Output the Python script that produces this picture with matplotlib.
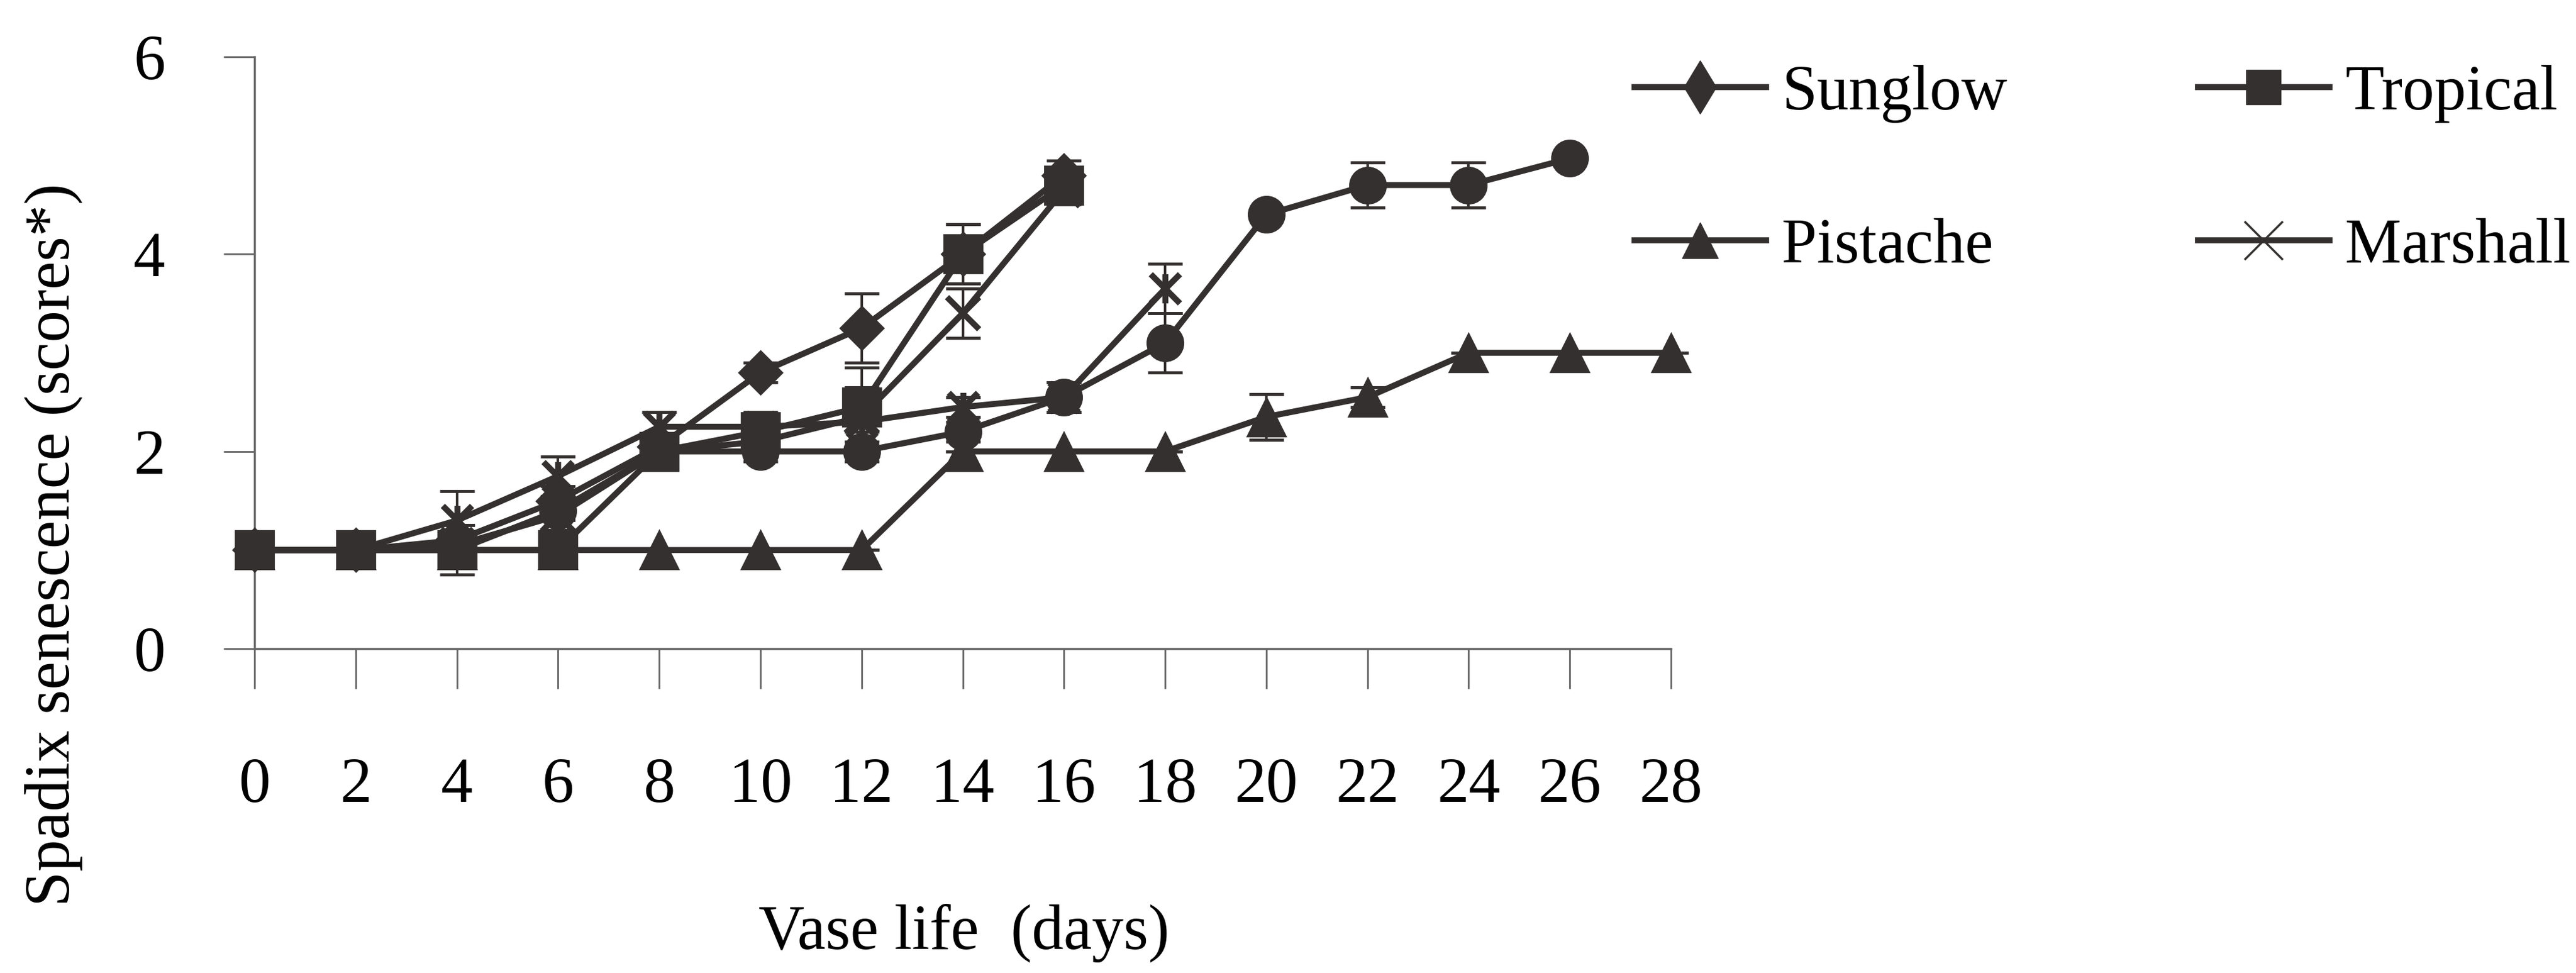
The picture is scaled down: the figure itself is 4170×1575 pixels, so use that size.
import matplotlib
matplotlib.use("Agg")
import matplotlib.pyplot as plt
from matplotlib.lines import Line2D
from matplotlib.path import Path

plt.rcParams["font.family"] = "serif"
plt.rcParams["font.serif"] = ["Liberation Serif", "Times New Roman", "DejaVu Serif"]

# vase life (days)
days = [0, 2, 4, 6, 8, 10, 12, 14, 16, 18, 20, 22, 24, 26, 28]
xticks = days

# spadix senescence scores
sunglow      = [1, 1, 1.1, 1.5, 2.05, 2.8, 3.25, 4.0, 4.8]
sunglow_err  = [0, 0, 0.15, 0.15, 0.1, 0.1, 0.35, 0.3, 0.15]
tropical     = [1, 1, 1.0, 1.0, 2.0, 2.2, 2.45, 4.0, 4.7]
tropical_err = [0, 0, 0.25, 0, 0.1, 0.2, 0.4, 0.3, 0.15]
pistache     = [1, 1, 1, 1, 1, 1, 1, 2, 2, 2, 2.35, 2.55, 3, 3, 3]
pistache_err = [0, 0, 0, 0, 0, 0, 0, 0, 0, 0, 0.23, 0.1, 0, 0, 0]
marshall     = [1, 1, 1.05, 1.35, 2.0, 2.1, 2.35, 3.4, 4.65]
marshall_err = [0, 0, 0.2, 0.15, 0.15, 0.1, 0.3, 0.25, 0.15]
# two more cultivars whose legend entries are cut off in the source
star         = [1, 1, 1.3, 1.75, 2.25, 2.25, 2.3, 2.45, 2.55, 3.65]
star_err     = [0, 0, 0.3, 0.2, 0.15, 0.1, 0.1, 0.1, 0.15, 0.25]
circle       = [1, 1, 1.0, 1.4, 2.0, 2.0, 2.0, 2.2, 2.55, 3.1, 4.4, 4.7, 4.7, 4.97]
circle_err   = [0, 0, 0.1, 0.1, 0.1, 0.1, 0.1, 0.1, 0.15, 0.3, 0, 0.23, 0.23, 0]

INK = "#353030"
FS = 74

# excel style "star": an x with a vertical stroke
star_marker = Path(
    [(-1, -1), (1, 1), (-1, 1), (1, -1), (0, -1), (0, 1)],
    [Path.MOVETO, Path.LINETO, Path.MOVETO, Path.LINETO, Path.MOVETO, Path.LINETO],
)

fig = plt.figure(figsize=(41.7, 15.75), dpi=100)
ax = fig.add_axes([0.0988, 0.3333, 0.5499, 0.6083])

series = [
    (circle,   circle_err,   "o", 42, True),
    (star,     star_err,     star_marker, 34, False),
    (pistache, pistache_err, "^", 44, True),
    (marshall, marshall_err, "x", 38, False),
    (tropical, tropical_err, "s", 44, True),
    (sunglow,  sunglow_err,  "D", 36, True),
]

for vals, err, mk, ms, filled in series:
    x = days[:len(vals)]
    ax.errorbar(x, vals, yerr=err, fmt="none", ecolor=INK, elinewidth=3,
                capsize=20, capthick=3.5, clip_on=False, zorder=3)
    ax.plot(x, vals, color=INK, linewidth=7, marker=mk, markersize=ms,
            markerfacecolor=INK if filled else "none", markeredgecolor=INK,
            markeredgewidth=2 if filled else 7, clip_on=False, zorder=4)

ax.set_xlim(0, 28)
ax.set_ylim(0, 6)
ax.set_xticks(xticks)
ax.set_yticks([0, 2, 4, 6])
ax.tick_params(axis="x", direction="out", length=47, width=2, color="#666666",
               pad=80, labelsize=FS)
ax.tick_params(axis="y", direction="out", length=36, width=2, color="#666666",
               pad=68, labelsize=FS)
for s in ["top", "right"]:
    ax.spines[s].set_visible(False)
for s in ["left", "bottom"]:
    ax.spines[s].set_color("#666666")
    ax.spines[s].set_linewidth(2.5)

fig.text(87 / 4170, 1 - 882 / 1575, "Spadix senescence (scores*)", rotation=90,
         ha="center", va="center", fontsize=FS)
fig.text(1560 / 4170, 1 - 1510 / 1575, "Vase life  (days)",
         ha="center", va="center", fontsize=FS)

handles = [
    Line2D([], [], color=INK, linewidth=7, marker="d", markersize=44,
           markerfacecolor=INK, markeredgecolor=INK),
    Line2D([], [], color=INK, linewidth=7, marker="^", markersize=42,
           markerfacecolor=INK, markeredgecolor=INK),
    Line2D([], [], color=INK, linewidth=7, marker="s", markersize=40,
           markerfacecolor=INK, markeredgecolor=INK),
    Line2D([], [], color=INK, linewidth=7, marker="x", markersize=44,
           markeredgewidth=2.5, markeredgecolor=INK),
]
labels = ["Sunglow", "Pistache", "Tropical", "Marshall"]
fig.legend(handles, labels, ncol=2, loc="upper left",
           bbox_to_anchor=(2646 / 4170, 1 - 105 / 1575), frameon=False,
           fontsize=FS, handlelength=2.07, handletextpad=0.25,
           columnspacing=3.0, labelspacing=1.5, borderpad=0, borderaxespad=0)

fig.savefig("out.png", dpi=100, facecolor="white")
